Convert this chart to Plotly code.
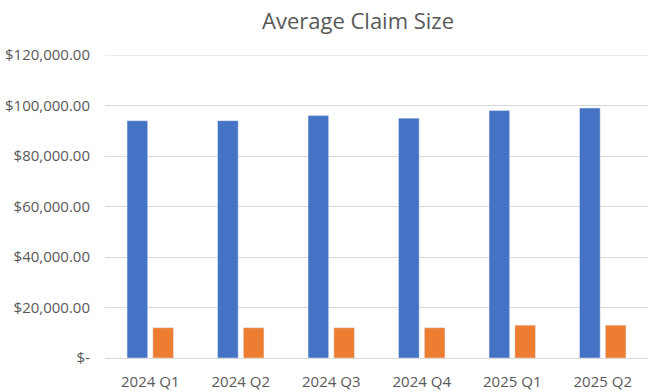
import plotly.graph_objects as go

categories = ["2024 Q1", "2024 Q2", "2024 Q3", "2024 Q4", "2025 Q1", "2025 Q2"]
series_a = [94000, 94000, 96000, 95000, 98000, 99000]
series_b = [12000, 12000, 12000, 12000, 13000, 13000]
tick_vals = [0, 20000, 40000, 60000, 80000, 100000, 120000]
tick_text = ["$-", "$20,000.00", "$40,000.00", "$60,000.00", "$80,000.00", "$100,000.00", "$120,000.00"]
y_max = 120000

W, H = 663, 392
left, right, top, bottom = 105, 15, 55, 34
plot_w = W - left - right
plot_h = H - top - bottom

fig = go.Figure()
fig.add_trace(go.Bar(x=categories, y=series_a, marker_color="#4472C4", name="Series 1"))
fig.add_trace(go.Bar(x=categories, y=series_b, marker_color="#ED7D31", name="Series 2"))

fig.update_layout(
    width=W, height=H,
    margin=dict(l=left, r=right, t=top, b=bottom, autoexpand=False),
    paper_bgcolor="white", plot_bgcolor="white",
    barmode="group", bargap=0.43, bargroupgap=0.2,
    showlegend=False,
    font=dict(family="Open Sans, Liberation Sans, sans-serif", color="#595959", size=14),
)
fig.add_annotation(text="Average Claim Size", xref="paper", yref="paper",
                   x=(358 - left) / plot_w, y=1 + (top - 20) / plot_h,
                   xanchor="center", yanchor="middle", showarrow=False,
                   font=dict(size=22, color="#595959"))
# top gridline (plotly skips the grid line at the very edge of the range)
fig.add_shape(type="line", xref="paper", yref="y", x0=0, x1=1, y0=y_max, y1=y_max,
              line=dict(color="#D9D9D9", width=1), layer="below")
fig.update_yaxes(range=[0, y_max], tickvals=tick_vals, ticktext=tick_text,
                 showgrid=True, gridcolor="#D9D9D9", gridwidth=1, zeroline=False,
                 showline=False, ticks="", ticklabelstandoff=14, automargin=False,
                 tickfont=dict(size=15))
fig.update_xaxes(showline=True, linecolor="#D9D9D9", linewidth=1, ticks="",
                 ticklabelstandoff=10, automargin=False, tickfont=dict(size=15))

# remove the default 8px page margin so the figure sits at the window's corner
fig.write_html("out.html", config={"displayModeBar": False, "staticPlot": True},
               post_script="document.body.style.margin='0';document.body.style.overflow='hidden';")
